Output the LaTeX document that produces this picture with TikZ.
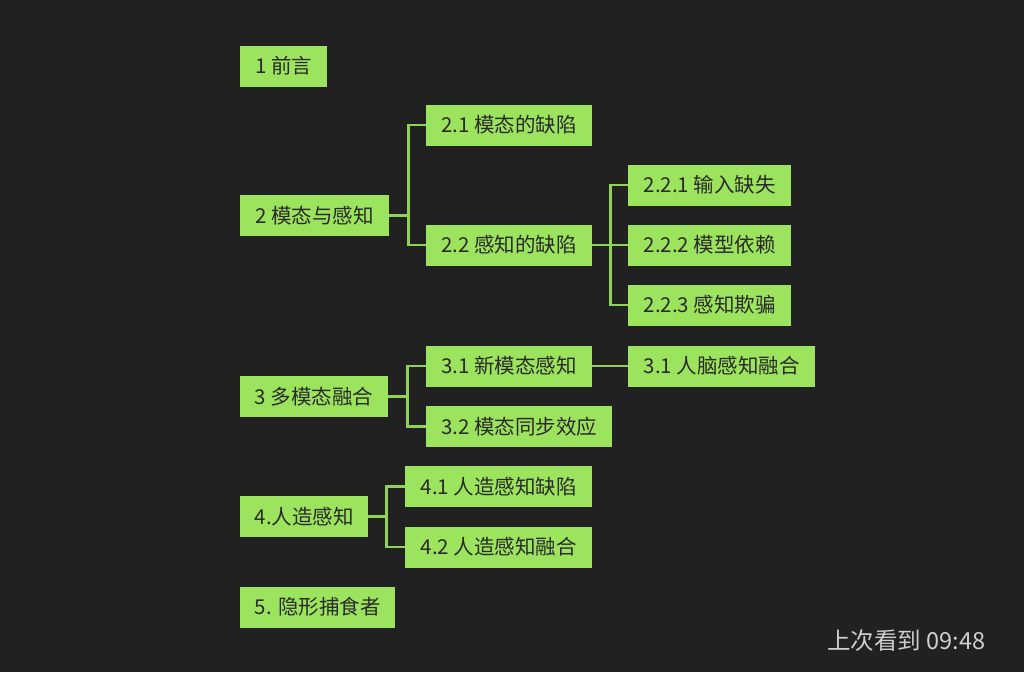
\documentclass[tikz,border=0pt]{standalone}
\usepackage{fontspec}
\newfontfamily\cjk{Noto Sans CJK SC}
\definecolor{bg}{HTML}{212121}
\definecolor{boxfill}{HTML}{9DE45E}
\definecolor{linkc}{HTML}{8ED257}
\definecolor{txt}{HTML}{2A2A2A}
\definecolor{stamp}{HTML}{CFCFCF}
\tikzset{
  topic/.style={anchor=west, fill=boxfill, text=txt, minimum height=41pt, inner sep=0pt,
    font=\cjk\fontsize{20.5}{20.5}\selectfont, align=center},
  link/.style={draw=linkc, line width=2.2pt}
}
\begin{document}
\begin{tikzpicture}[x=1pt,y=-1pt]
\fill[bg] (0,0) rectangle (1024,672);
\useasboundingbox (0,0) rectangle (1024,672);
\node[topic, minimum width=87pt]  (n1)   at (240,66)    {1 前言};
\node[topic, minimum width=149pt] (n2)   at (240,215.5) {2 模态与感知};
\node[topic, minimum width=166pt] (n21)  at (426,125)   {2.1 模态的缺陷};
\node[topic, minimum width=166pt] (n22)  at (426,245)   {2.2 感知的缺陷};
\node[topic, minimum width=163pt] (n221) at (628,185)   {2.2.1 输入缺失};
\node[topic, minimum width=163pt] (n222) at (628,245)   {2.2.2 模型依赖};
\node[topic, minimum width=163pt] (n223) at (628,305)   {2.2.3 感知欺骗};
\node[topic, minimum width=148pt] (n3)   at (240,396.5) {3 多模态融合};
\node[topic, minimum width=166pt] (n31)  at (426,366)   {3.1 新模态感知};
\node[topic, minimum width=187pt] (n311) at (628,366)   {3.1 人脑感知融合};
\node[topic, minimum width=186pt] (n32)  at (426,426.5) {3.2 模态同步效应};
\node[topic, minimum width=128pt] (n4)   at (240,516.5) {4.人造感知};
\node[topic, minimum width=187pt] (n41)  at (405,486.5) {4.1 人造感知缺陷};
\node[topic, minimum width=187pt] (n42)  at (405,547)   {4.2 人造感知融合};
\node[topic, minimum width=155pt] (n5)   at (240,607)   {5. 隐形捕食者};
\node[anchor=west, text=stamp, inner sep=0pt, font=\cjk\fontsize{23.5}{23.5}\selectfont] (ts) at (827,641) {上次看到 09:48};
% connectors
\draw[link] (n2.east) -- ++(19,0) coordinate (t2) |- (n21.west);
\draw[link] (t2) |- (n22.west);
\draw[link] (n22.east) -- ++(18,0) coordinate (t22) |- (n221.west);
\draw[link] (t22) -- (n222.west);
\draw[link] (t22) |- (n223.west);
\draw[link] (n3.east) -- ++(19,0) coordinate (t3) |- (n31.west);
\draw[link] (t3) |- (n32.west);
\draw[link] (n31.east) -- (n311.west);
\draw[link] (n4.east) -- ++(18,0) coordinate (t4) |- (n41.west);
\draw[link] (t4) |- (n42.west);
\end{tikzpicture}
\end{document}
